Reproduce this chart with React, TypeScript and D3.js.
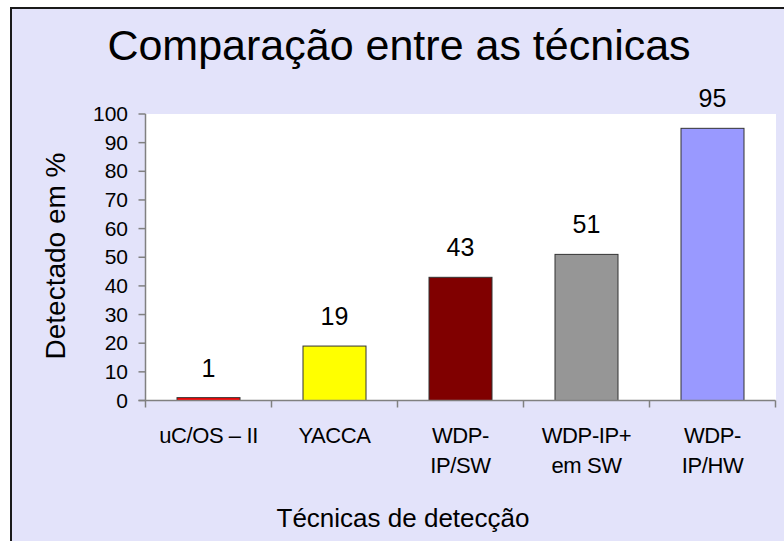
import React from "react";
import * as d3 from "d3";

const categories: string[][] = [
  ["uC/OS – II"],
  ["YACCA"],
  ["WDP-", "IP/SW"],
  ["WDP-IP+", "em SW"],
  ["WDP-", "IP/HW"],
];
const values: number[] = [1, 19, 43, 51, 95];
const barColors: string[] = ["#FF0000", "#FFFF00", "#800000", "#969696", "#9999FF"];
const yTicks: number[] = [0, 10, 20, 30, 40, 50, 60, 70, 80, 90, 100];

const title = "Comparação entre as técnicas";
const xTitle = "Técnicas de detecção";
const yTitle = "Detectado em %";

const W = 784;
const H = 541;
const font = "'Liberation Sans', Arial, sans-serif";

const plot = { left: 145.5, right: 775.5, top: 114, bottom: 400.5 };

export default function App() {
  const x = d3
    .scaleBand<number>()
    .domain(d3.range(values.length))
    .range([plot.left, plot.right])
    .paddingInner(0.5)
    .paddingOuter(0.25);
  const step = (plot.right - plot.left) / values.length;
  const y = d3.scaleLinear().domain([0, 100]).range([plot.bottom, plot.top]);

  return (
    <svg
      width={W}
      height={H}
      style={{ position: "absolute", left: 0, top: 0, display: "block" }}
      fontFamily={font}
    >
      <rect x={0} y={0} width={W} height={H} fill="#ffffff" />
      <rect x={11} y={8} width={W + 20} height={H + 20} fill="#E3E3FA" stroke="#1a1a1a" strokeWidth={2} />
      <rect
        x={plot.left}
        y={plot.top}
        width={plot.right - plot.left + 0.5}
        height={plot.bottom - plot.top}
        fill="#ffffff"
      />
      <text x={399} y={60} textAnchor="middle" fontSize={43} fill="#000">
        {title}
      </text>

      {/* bars */}
      {values.map((v, i) => (
        <rect
          key={i}
          x={x(i)}
          y={y(v)}
          width={x.bandwidth()}
          height={y(0) - y(v)}
          fill={barColors[i]}
          stroke="#333"
          strokeWidth={1}
        />
      ))}
      {values.map((v, i) => (
        <text
          key={i}
          x={(x(i) as number) + x.bandwidth() / 2}
          y={y(v) - 21}
          textAnchor="middle"
          fontSize={25}
          fill="#000"
        >
          {v}
        </text>
      ))}

      {/* y axis */}
      <line x1={plot.left} x2={plot.left} y1={plot.top} y2={plot.bottom} stroke="#808080" strokeWidth={1.5} />
      {yTicks.map((t) => (
        <g key={t}>
          <line x1={plot.left - 7} x2={plot.left} y1={y(t)} y2={y(t)} stroke="#808080" strokeWidth={1.5} />
          <text x={128} y={y(t) + 7} textAnchor="end" fontSize={21} fill="#000">
            {t}
          </text>
        </g>
      ))}

      {/* x axis */}
      <line x1={plot.left - 7} x2={plot.right} y1={plot.bottom} y2={plot.bottom} stroke="#808080" strokeWidth={1.5} />
      {d3.range(values.length + 1).map((i) => (
        <line
          key={i}
          x1={plot.left + i * step}
          x2={plot.left + i * step}
          y1={plot.bottom}
          y2={plot.bottom + 7}
          stroke="#808080"
          strokeWidth={1.5}
        />
      ))}
      {categories.map((lines, i) => (
        <text
          key={i}
          x={plot.left + (i + 0.5) * step}
          textAnchor="middle"
          fontSize={22}
          letterSpacing={-0.4}
          fill="#000"
        >
          {lines.map((l, j) => (
            <tspan key={j} x={plot.left + (i + 0.5) * step} y={443 + j * 30}>
              {l}
            </tspan>
          ))}
        </text>
      ))}

      <text x={403} y={527} textAnchor="middle" fontSize={26} fill="#000">
        {xTitle}
      </text>
      <text
        transform={`translate(65,256) rotate(-90)`}
        textAnchor="middle"
        fontSize={28}
        fill="#000"
      >
        {yTitle}
      </text>
    </svg>
  );
}
